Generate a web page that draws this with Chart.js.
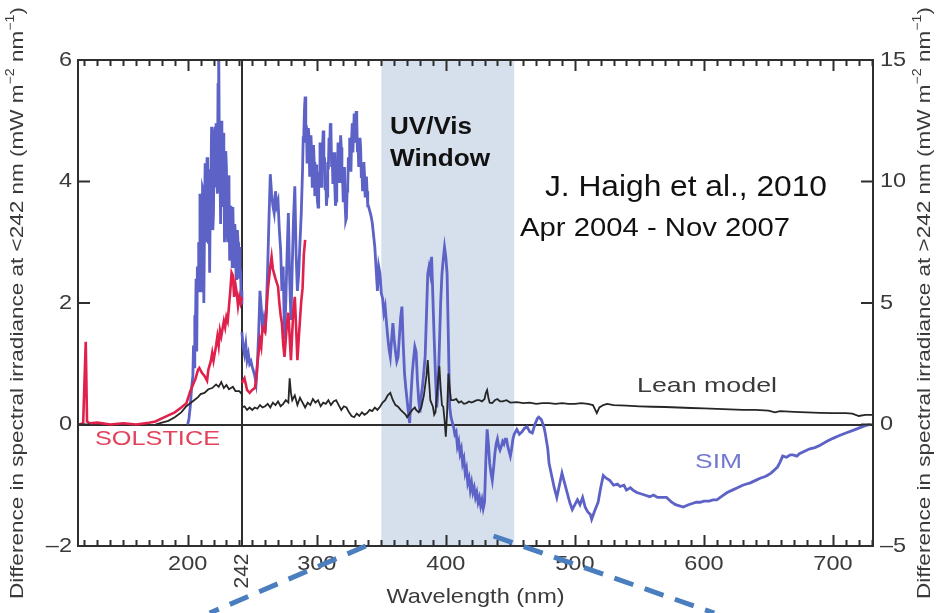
<!DOCTYPE html>
<html>
<head>
<meta charset="utf-8">
<script src="https://cdn.jsdelivr.net/npm/chart.js@4.4.0/dist/chart.umd.min.js"></script>
<style>
  html, body { margin: 0; padding: 0; background: #fff; }
  #wrap { width: 940px; height: 613px; }
</style>
</head>
<body>
<div id="wrap"><canvas id="chart" width="940" height="613"></canvas></div>
<script>
// Axis ranges and tick labels
const xRange = [115, 731];
const xTicks = [200, 300, 400, 500, 600, 700];
const yLeftRange = [-2, 6];
const yLeftTicks = [-2, 0, 2, 4, 6];
const yRightRange = [-5, 15];
const yRightTicks = [-5, 0, 5, 10, 15];
const breakWl = 242;
const uvVisWindow = [350, 453];
// zoom-out guide lines: [wavelength at axis, wavelength at page bottom]
const guideLeft = [338, 217];
const guideRight = [437, 608];

// [wavelength nm, difference] below 242 nm (left axis)
const solsticeUv = [
  [116, 0], [119, 0.02], [121, 1.36], [122, 0.05], [124, 0.02], [130, 0.03], [140, 0],
  [150, 0.02], [160, 0], [170, 0.03], [175, 0.05], [180, 0.1], [185, 0.15], [190, 0.2],
  [195, 0.28], [199, 0.35], [202, 0.55], [204, 0.65], [206, 0.75], [208, 0.9], [209, 0.93],
  [211, 0.85], [213, 0.8], [215, 0.72], [216, 0.9], [218, 1.05], [219, 1.18], [220, 1.05],
  [222, 1.3], [223, 1.45], [224, 1.3], [225, 1.55], [226, 1.45], [228, 1.7], [229, 1.6],
  [230, 1.77], [231, 1.7], [232, 1.95], [233, 2.2], [234, 2.5], [235, 2.45], [236, 2.1],
  [237, 2.3], [238, 2.16], [239, 1.95], [240, 2.1], [241, 2.0], [242, 2.1]
];
const simUv = [
  [200, 0], [201, 0.1], [202, 0.3], [203, 0.6], [204, 0.8], [204.5, 1.3], [205, 0.95],
  [205.5, 1.8], [206, 1.6], [206.5, 2.4], [207, 1.2], [207.5, 2.6], [208, 2.2], [208.5, 3.0],
  [209, 2.5], [209.5, 3.8], [210, 3.3], [210.5, 2.2], [211, 2.6], [211.5, 3.9], [212, 3.86],
  [212.5, 2.0], [213, 3.2], [213.5, 4.3], [214, 4.1], [214.5, 3.0], [215, 4.4], [215.5, 3.4],
  [216, 3.0], [216.5, 4.2], [217, 2.5], [217.5, 3.6], [218, 4.0], [218.5, 4.9], [219, 4.8],
  [219.5, 3.2], [220, 3.5], [220.5, 4.7], [221, 4.9], [221.5, 3.9], [222, 4.96], [222.5, 4.2],
  [223, 3.8], [223.5, 5.6], [224, 6.4], [224.5, 4.5], [225, 4.2], [225.5, 3.3], [226, 5.0],
  [226.5, 4.0], [227, 3.58], [227.5, 4.8], [228, 4.6], [228.5, 3.0], [229, 3.4], [229.5, 4.5],
  [230, 4.24], [230.5, 3.2], [231, 3.0], [231.5, 4.1], [232, 3.9], [232.5, 2.7], [233, 2.76],
  [233.5, 3.6], [234, 3.2], [234.5, 2.6], [235, 3.58], [235.5, 3.0], [236, 2.6], [236.5, 3.3],
  [237, 3.1], [237.5, 2.4], [238, 2.49], [238.5, 3.2], [239, 3.0], [239.5, 2.4], [240, 2.92],
  [240.5, 2.6], [241, 2.5], [241.5, 2.0], [242, 2.2]
];
const leanUv = [
  [175, 0], [180, 0.03], [185, 0.06], [190, 0.12], [195, 0.2], [199, 0.3], [202, 0.35],
  [205, 0.4], [208, 0.45], [210, 0.5], [213, 0.52], [216, 0.58], [219, 0.6], [222, 0.66],
  [224, 0.62], [226, 0.7], [228, 0.6], [230, 0.65], [232, 0.58], [235, 0.62], [237, 0.55],
  [240, 0.55], [242, 0.5]
];

// [wavelength nm, difference] above 242 nm (right axis)
const solsticeVis = [
  [242, 1.7], [244, 1.9], [246, 1.42], [248, 1.3], [250, 1.42], [252, 1.5], [253, 1.83],
  [254, 2.5], [256, 3.48], [257, 3.2], [258, 4.0], [260, 3.8], [261, 4.6], [262, 5.5],
  [264, 6.5], [265, 6.9], [266, 6.4], [267, 6.2], [268, 6.0], [270, 5.67], [271, 5.0],
  [272, 4.5], [273, 4.17], [274, 3.3], [275, 2.78], [276, 3.5], [277, 4.2], [278, 4.6],
  [279, 3.6], [280, 2.65], [281, 3.8], [282, 4.8], [283, 5.25], [284, 4.0], [285, 2.65],
  [286, 3.5], [287, 4.3], [288, 5.1], [289, 5.6], [290, 7.0], [291, 7.6]
];
const simVis = [
  [242, 3.8], [243, 3.2], [244, 2.9], [245, 3.3], [246, 2.65], [247, 2.9], [248, 2.5],
  [249, 2.6], [250, 2.37], [251, 2.2], [252, 2.0], [253, 1.7], [254, 2.5], [255, 3.8],
  [256, 5.5], [257, 4.8], [258, 3.9], [259, 4.3], [260, 3.8], [261, 4.85], [262, 6.5],
  [263, 8.5], [264, 10.3], [265, 9.5], [266, 9.0], [267, 8.7], [268, 9.6], [269, 9.0],
  [270, 9.2], [271, 8.0], [272, 7.2], [273, 5.5], [274, 6.5], [275, 3.5], [276, 5.0],
  [277, 7.0], [278, 8.7], [279, 6.0], [280, 4.3], [281, 6.5], [282, 8.5], [283, 9.8],
  [284, 7.0], [285, 5.5], [286, 6.2], [287, 7.5], [288, 8.7], [289, 10.5], [289.5, 11.8],
  [290, 12.0], [290.5, 13.0], [291, 13.5], [291.5, 11.6], [292, 12.3], [292.5, 10.8],
  [293, 11.0], [293.5, 12.2], [294, 11.8], [294.5, 10.2], [295, 10.6], [295.5, 11.9],
  [296, 11.2], [296.5, 9.8], [297, 10.3], [297.5, 11.5], [298, 10.8], [298.5, 9.4],
  [299, 9.6], [299.5, 10.7], [300, 9.9], [300.5, 9.2], [301, 8.95], [301.5, 10.4],
  [302, 10.2], [302.5, 11.6], [303, 11.0], [303.5, 9.8], [304, 10.5], [304.5, 11.4],
  [305, 12.1], [305.5, 10.6], [306, 11.0], [306.5, 9.7], [307, 10.2], [307.5, 9.0],
  [308, 9.4], [308.5, 10.8], [309, 10.5], [309.5, 11.8], [310, 11.3], [310.5, 12.4],
  [311, 12.2], [311.5, 10.6], [312, 11.0], [312.5, 9.9], [313, 10.4], [313.5, 11.2],
  [314, 9.8], [314.5, 9.0], [315, 9.2], [315.5, 10.9], [316, 10.4], [316.5, 11.6],
  [317, 11.0], [317.5, 10.0], [318, 10.6], [318.5, 11.9], [319, 11.4], [319.5, 10.3],
  [320, 10.1], [320.5, 9.2], [321, 9.5], [321.5, 10.6], [322, 9.0], [322.5, 8.4],
  [323, 8.5], [323.5, 9.6], [324, 9.8], [324.5, 11.0], [325, 10.6], [325.5, 11.8],
  [326, 11.2], [326.5, 10.4], [327, 11.7], [327.5, 12.4], [328, 11.2], [328.5, 12.0],
  [329, 12.8], [329.5, 11.6], [330, 12.0], [330.5, 12.9], [331, 12.6], [331.5, 11.2],
  [332, 11.5], [332.5, 10.6], [333, 11.0], [333.5, 11.8], [334, 11.4], [334.5, 10.2],
  [335, 10.5], [335.5, 9.6], [336, 10.0], [336.5, 10.8], [337, 10.3], [337.5, 9.4],
  [338, 9.8], [338.5, 10.2], [339, 9.6], [339.5, 9.0], [340, 9.0], [341, 8.8], [342, 8.6],
  [343, 8.3], [344, 7.8], [345, 7.3], [346, 6.4], [347, 5.5], [348, 6.5], [349, 6.2],
  [350, 5.4], [351, 5.2], [352, 4.6], [353, 4.85], [354, 4.2], [355, 3.6], [356, 3.1],
  [357, 2.78], [358, 3.5], [359, 4.17], [360, 3.5], [361, 3.0], [362, 2.6], [363, 2.78],
  [364, 3.6], [365, 4.4], [366, 4.85], [367, 3.3], [368, 2.1], [369, 1.5], [370, 1.0],
  [371, 0.5], [372, 0.06], [373, 1.2], [374, 2.1], [375, 2.7], [376, 3.2], [377, 3.0],
  [378, 1.8], [379, 1.0], [380, 0.5], [381, 1.2], [382, 1.6], [383, 2.2], [384, 2.8],
  [385, 4.5], [386, 6.2], [387, 6.5], [388, 6.2], [389, 6.9], [390, 5.2], [391, 3.5],
  [392, 2.0], [393, 0.7], [394, 1.5], [395, 3.2], [396, 5.0], [397, 6.2], [398, 6.8],
  [399, 7.3], [400, 6.9], [401, 6.2], [402, 3.5], [403, 0.7], [404, 0.3], [405, 0.1],
  [406, -0.1], [407, -0.4], [408, -0.3], [409, -0.9], [410, -0.7], [411, -1.2], [412, -1.0],
  [413, -1.6], [414, -1.4], [415, -2.0], [416, -1.8], [417, -2.4], [418, -2.2], [419, -2.7],
  [420, -2.4], [421, -2.8], [422, -2.6], [423, -3.0], [424, -2.8], [425, -3.2], [426, -3.0],
  [427, -3.35], [428, -3.1], [429, -3.45], [430, -3.2], [431, -1.5], [432, -0.2], [433, -0.8],
  [434, -1.6], [435, -2.0], [436, -2.3], [437, -1.8], [438, -1.2], [439, -0.8], [440, -0.6],
  [441, -0.9], [442, -1.05], [443, -0.9], [444, -0.7], [445, -0.8], [446, -0.6], [447, -0.6],
  [448, -0.9], [449, -1.1], [450, -1.3], [451, -1.0], [452, -0.6], [453, -0.4], [455, -0.2],
  [457, -0.4], [459, -0.3], [461, -0.15], [463, -0.1], [465, -0.3], [467, -0.35], [469, 0.0],
  [471, 0.25], [472, 0.3], [474, 0.2], [476, -0.1], [477, -0.35], [479, -1.0], [480, -1.6],
  [482, -2.1], [484, -2.6], [486, -3.0], [488, -2.5], [490, -2.0], [492, -2.4], [494, -2.8],
  [496, -3.2], [498, -3.5], [500, -3.3], [502, -3.1], [504, -3.3], [506, -3.0], [508, -3.4],
  [510, -3.6], [512, -3.7], [513, -3.9], [515, -3.6], [518, -3.2], [520, -2.6], [522, -2.1],
  [524, -2.2], [527, -2.3], [530, -2.5], [533, -2.45], [535, -2.55], [538, -2.5], [540, -2.7],
  [543, -2.6], [545, -2.7], [548, -2.8], [551, -2.85], [554, -2.9], [558, -2.97], [561, -2.9],
  [564, -3.0], [568, -3.0], [571, -3.0], [575, -3.2], [578, -3.3], [581, -3.35], [584, -3.4],
  [588, -3.3], [591, -3.25], [594, -3.2], [597, -3.2], [600, -3.15], [604, -3.15], [607, -3.1],
  [610, -3.1], [614, -2.95], [618, -2.8], [622, -2.7], [626, -2.6], [630, -2.5], [633, -2.45],
  [636, -2.4], [640, -2.3], [644, -2.2], [647, -2.15], [649, -2.1], [652, -2.0], [655, -1.85],
  [657, -1.75], [659, -1.55], [661, -1.3], [664, -1.35], [667, -1.25], [669, -1.25], [672, -1.3],
  [674, -1.2], [678, -1.1], [682, -1.0], [686, -0.95], [690, -0.85], [695, -0.7], [700, -0.57],
  [705, -0.45], [710, -0.35], [715, -0.25], [720, -0.15], [725, -0.05], [729, 0.0]
];
const leanVis = [
  [242, 0.7], [244, 0.75], [246, 0.6], [248, 0.7], [250, 0.6], [252, 0.7], [254, 0.65],
  [256, 0.8], [258, 0.7], [260, 0.75], [262, 0.85], [264, 0.7], [266, 0.9], [268, 0.8],
  [270, 0.95], [272, 0.75], [274, 0.85], [276, 1.0], [278, 0.9], [279, 1.9], [280, 1.3],
  [281, 1.0], [283, 1.2], [285, 0.8], [287, 1.1], [289, 0.9], [291, 0.7], [293, 0.9],
  [295, 0.8], [297, 1.05], [299, 0.9], [301, 1.0], [303, 0.75], [305, 0.9], [307, 0.85],
  [309, 1.0], [311, 0.8], [313, 0.95], [315, 1.0], [317, 0.8], [319, 0.6], [321, 0.75],
  [323, 0.7], [325, 0.5], [327, 0.35], [329, 0.3], [331, 0.45], [333, 0.35], [335, 0.5],
  [337, 0.4], [339, 0.47], [341, 0.6], [343, 0.55], [345, 0.7], [347, 0.6], [349, 0.73],
  [351, 0.9], [353, 1.0], [355, 1.2], [357, 1.3], [359, 1.0], [361, 0.8], [363, 0.73],
  [365, 0.6], [367, 0.5], [369, 0.4], [370, 0.3], [372, 0.45], [374, 0.6], [376, 0.7],
  [377, 0.6], [379, 0.5], [381, 0.7], [383, 1.2], [385, 2.0], [386, 2.65], [387, 1.8],
  [388, 1.0], [390, 0.73], [391, 0.4], [392, 0.5], [393, 1.2], [394, 1.8], [395, 2.4],
  [396, 1.5], [397, 0.8], [398, 0.73], [399, 0.2], [400, -0.5], [401, 0.5], [402, 2.1],
  [403, 1.5], [404, 1.0], [406, 1.0], [408, 1.05], [410, 0.9], [412, 0.95], [414, 0.85],
  [416, 0.88], [418, 0.95], [420, 0.9], [422, 0.95], [424, 1.0], [426, 1.0], [428, 0.95],
  [430, 1.05], [431, 1.3], [432, 1.42], [433, 1.1], [434, 0.9], [436, 0.88], [438, 1.0],
  [440, 1.05], [442, 0.95], [444, 0.95], [447, 1.0], [450, 0.9], [455, 0.92], [460, 0.88],
  [465, 0.9], [470, 0.85], [475, 0.88], [480, 0.88], [485, 0.85], [490, 0.88], [495, 0.85],
  [500, 0.85], [505, 0.88], [510, 0.85], [514, 0.8], [517, 0.47], [519, 0.7], [522, 0.8],
  [525, 0.85], [530, 0.8], [540, 0.78], [550, 0.75], [560, 0.73], [570, 0.72], [580, 0.7],
  [590, 0.68], [600, 0.66], [610, 0.64], [620, 0.62], [630, 0.6], [640, 0.6], [650, 0.57],
  [655, 0.5], [659, 0.55], [670, 0.52], [680, 0.5], [690, 0.48], [700, 0.47], [710, 0.47],
  [715, 0.45], [720, 0.35], [725, 0.4], [731, 0.4]
];

const FONT = '"Liberation Sans", Arial, sans-serif';
const toPoints = (pairs) => pairs.map(([x, y]) => ({ x, y }));

// draw a run of text parts, optionally stretched / rotated
function drawLabel(ctx, parts, x, y, o) {
  ctx.save();
  ctx.translate(x, y);
  if (o.rotate) ctx.rotate(o.rotate);
  const base = (o.bold ? 'bold ' : '') + o.size + 'px ' + FONT;
  const sup = Math.round(o.size * 0.62) + 'px ' + FONT;
  let w = 0;
  parts.forEach((p) => {
    ctx.font = p.sup ? sup : base;
    w += ctx.measureText(p.t).width;
  });
  const sx = o.fit ? o.fit / w : (o.sx || 1);
  ctx.scale(sx, 1);
  let cx = o.align === 'center' ? -w / 2 : o.align === 'right' ? -w : 0;
  ctx.fillStyle = o.color;
  ctx.textBaseline = 'middle';
  ctx.textAlign = 'left';
  parts.forEach((p) => {
    ctx.font = p.sup ? sup : base;
    ctx.fillText(p.t, cx, p.sup ? -o.size * 0.38 : 0);
    cx += ctx.measureText(p.t).width;
  });
  ctx.restore();
}

const axisColor = '#2e2e2e';
const textColor = '#3a3a3a';

const decorations = {
  id: 'decorations',
  beforeDatasetsDraw(chart) {
    const { ctx, chartArea: a, scales: { x, y } } = chart;
    ctx.save();
    const x0 = x.getPixelForValue(uvVisWindow[0]);
    const x1 = x.getPixelForValue(uvVisWindow[1]);
    ctx.fillStyle = '#d6e0ed';
    ctx.fillRect(x0, a.top, x1 - x0, a.bottom - a.top);
    ctx.strokeStyle = axisColor;
    ctx.lineWidth = 2;
    ctx.beginPath();
    const y0 = Math.round(y.getPixelForValue(0));
    ctx.moveTo(a.left, y0);
    ctx.lineTo(a.right, y0);
    const xb = Math.round(x.getPixelForValue(breakWl));
    ctx.moveTo(xb, a.top);
    ctx.lineTo(xb, a.bottom);
    ctx.stroke();
    ctx.restore();
  },
  afterDatasetsDraw(chart) {
    const { ctx, chartArea: a, scales: { x, y, y2 } } = chart;
    ctx.save();
    ctx.strokeStyle = axisColor;
    ctx.lineWidth = 2;
    ctx.strokeRect(a.left, a.top, a.right - a.left, a.bottom - a.top);
    ctx.beginPath();
    for (let wl = 120; wl <= xRange[1]; wl += 10) {
      const px = Math.round(x.getPixelForValue(wl)) + 0.5;
      const len = wl % 100 === 0 ? 11 : 6;
      ctx.moveTo(px, a.bottom);
      ctx.lineTo(px, a.bottom - len);
      ctx.moveTo(px, a.top);
      ctx.lineTo(px, a.top + len);
    }
    yLeftTicks.forEach((v) => {
      const py = y.getPixelForValue(v);
      ctx.moveTo(a.left, py);
      ctx.lineTo(a.left + 12, py);
    });
    yRightTicks.forEach((v) => {
      const py = y2.getPixelForValue(v);
      ctx.moveTo(a.right, py);
      ctx.lineTo(a.right - 12, py);
    });
    ctx.stroke();
    ctx.restore();
  },
  afterDraw(chart) {
    const { ctx, chartArea: a, scales: { x, y, y2 } } = chart;
    const fmt = (v) => (v < 0 ? '\u2013' + Math.abs(v) : String(v));
    xTicks.forEach((v) => {
      drawLabel(ctx, [{ t: String(v) }], x.getPixelForValue(v), a.bottom + 18,
        { size: 21, sx: 1.12, align: 'center', color: textColor });
    });
    drawLabel(ctx, [{ t: String(breakWl) }], x.getPixelForValue(breakWl), a.bottom + 25,
      { size: 21, sx: 1.0, align: 'center', color: textColor, rotate: -Math.PI / 2 });
    yLeftTicks.forEach((v) => {
      drawLabel(ctx, [{ t: fmt(v) }], a.left - 6, y.getPixelForValue(v),
        { size: 21, sx: 1.12, align: 'right', color: textColor });
    });
    yRightTicks.forEach((v) => {
      drawLabel(ctx, [{ t: fmt(v) }], a.right + 7, y2.getPixelForValue(v),
        { size: 21, sx: 1.12, align: 'left', color: textColor });
    });
    const midY = (a.top + a.bottom) / 2;
    drawLabel(ctx, [
      { t: 'Difference in spectral irradiance at <242 nm (mW m' }, { t: '\u22122', sup: true },
      { t: ' nm' }, { t: '\u22121', sup: true }, { t: ')' }
    ], 18, midY, { size: 19, fit: 592, align: 'center', color: textColor, rotate: -Math.PI / 2 });
    drawLabel(ctx, [
      { t: 'Difference in spectral irradiance at >242 nm (mW m' }, { t: '\u22122', sup: true },
      { t: ' nm' }, { t: '\u22121', sup: true }, { t: ')' }
    ], 925, midY, { size: 19, fit: 592, align: 'center', color: textColor, rotate: -Math.PI / 2 });
    drawLabel(ctx, [{ t: 'Wavelength (nm)' }], (a.left + a.right) / 2, 597,
      { size: 21, sx: 1.12, align: 'center', color: textColor });

    // in-plot annotations
    drawLabel(ctx, [{ t: 'SOLSTICE' }], 95, 439, { size: 21, fit: 125, color: '#e3425c' });
    drawLabel(ctx, [{ t: 'SIM' }], 695, 462, { size: 21, fit: 47, color: '#7479d0' });
    drawLabel(ctx, [{ t: 'Lean model' }], 637, 386, { size: 21, fit: 140, color: textColor });
    drawLabel(ctx, [{ t: 'UV/Vis' }], 390, 128, { size: 23, bold: true, fit: 82, color: '#111' });
    drawLabel(ctx, [{ t: 'Window' }], 390, 160, { size: 23, bold: true, fit: 100, color: '#111' });
    drawLabel(ctx, [{ t: 'J. Haigh et al., 2010' }], 545, 188, { size: 29, fit: 282, color: '#111' });
    drawLabel(ctx, [{ t: 'Apr 2004 - Nov 2007' }], 520, 229, { size: 26, fit: 270, color: '#111' });

    // dashed zoom-out lines below the window
    ctx.save();
    ctx.strokeStyle = '#4a7ebf';
    ctx.lineWidth = 5;
    ctx.setLineDash([20, 12]);
    ctx.beginPath();
    ctx.moveTo(x.getPixelForValue(guideLeft[0]), a.bottom);
    ctx.lineTo(x.getPixelForValue(guideLeft[1]), chart.height);
    ctx.moveTo(x.getPixelForValue(guideRight[0]), a.bottom - 10);
    ctx.lineTo(x.getPixelForValue(guideRight[1]), chart.height);
    ctx.stroke();
    ctx.restore();
  }
};

const lineStyle = { pointRadius: 0, borderWidth: 2.6, tension: 0, fill: false };
const leanColor = '#262626';
const simColor = '#5c62c6';
const solsticeColor = '#e0214c';

new Chart(document.getElementById('chart'), {
  type: 'line',
  data: {
    datasets: [
      { label: 'Lean model', data: toPoints(leanUv), yAxisID: 'y', borderColor: leanColor, ...lineStyle, borderWidth: 1.8 },
      { label: 'Lean model', data: toPoints(leanVis), yAxisID: 'y2', borderColor: leanColor, ...lineStyle, borderWidth: 1.8 },
      { label: 'SOLSTICE', data: toPoints(solsticeUv), yAxisID: 'y', borderColor: solsticeColor, ...lineStyle },
      { label: 'SOLSTICE', data: toPoints(solsticeVis), yAxisID: 'y2', borderColor: solsticeColor, ...lineStyle },
      { label: 'SIM', data: toPoints(simUv), yAxisID: 'y', borderColor: simColor, ...lineStyle, borderWidth: 2.8 },
      { label: 'SIM', data: toPoints(simVis), yAxisID: 'y2', borderColor: simColor, ...lineStyle, borderWidth: 2.8 }
    ]
  },
  options: {
    responsive: false,
    animation: false,
    devicePixelRatio: 1,
    layout: { padding: { top: 60, left: 0, right: 0, bottom: 0 } },
    plugins: { legend: { display: false }, tooltip: { enabled: false } },
    scales: {
      x: {
        type: 'linear', position: 'bottom', min: xRange[0], max: xRange[1],
        grid: { display: false }, border: { display: false }, ticks: { display: false },
        afterFit: (s) => { s.height = 67; }
      },
      y: {
        position: 'left', min: yLeftRange[0], max: yLeftRange[1],
        grid: { display: false }, border: { display: false }, ticks: { display: false },
        afterFit: (s) => { s.width = 78; }
      },
      y2: {
        position: 'right', min: yRightRange[0], max: yRightRange[1],
        grid: { display: false }, border: { display: false }, ticks: { display: false },
        afterFit: (s) => { s.width = 67; }
      }
    }
  },
  plugins: [decorations]
});
</script>
</body>
</html>
